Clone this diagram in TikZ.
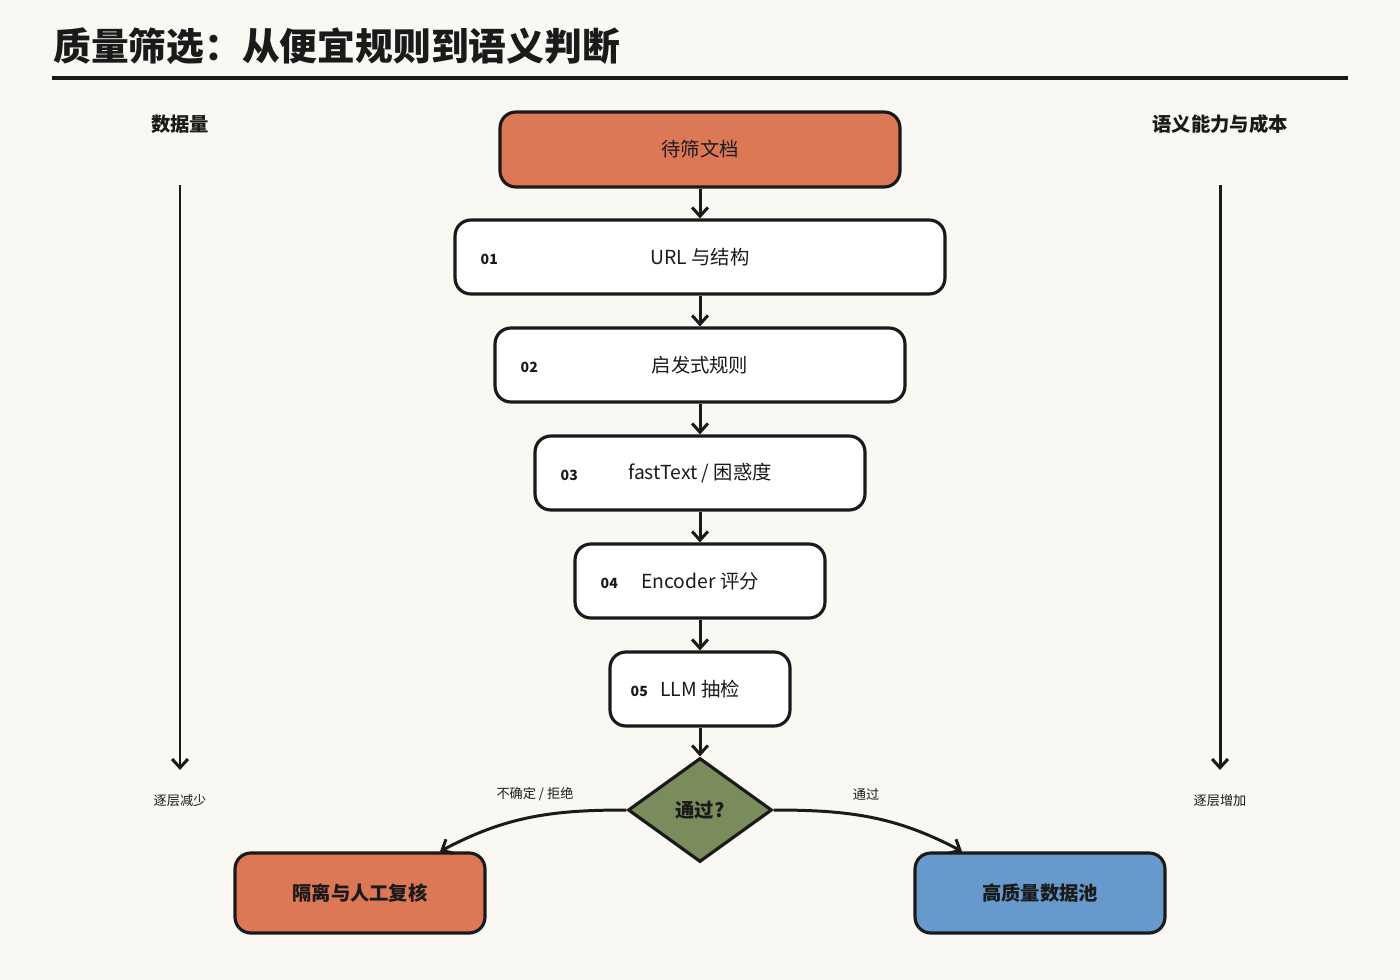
\documentclass[tikz,border=0pt]{standalone}
\usepackage{fontspec}
\setmainfont{Noto Sans CJK SC}
\usetikzlibrary{positioning,shapes.geometric,arrows.meta}
\definecolor{paper}{HTML}{FAF8F3}
\definecolor{rust}{HTML}{DD7856}
\definecolor{sky}{HTML}{6699CC}
\definecolor{moss}{HTML}{7A8C5C}
\definecolor{ink}{HTML}{1A1A1A}
\begin{document}
\begin{tikzpicture}[x=0.02cm,y=-0.02cm,
                line width=1.6pt, draw=ink,
                box/.style={draw=ink, rounded corners=9pt, line width=1.8pt, fill=white,
                  minimum height=1.48cm, font=\fontsize{11}{13}\selectfont, text=ink},
                num/.style={font=\fontsize{8}{10}\selectfont\bfseries, text=ink, anchor=west},
                side/.style={font=\fontsize{11}{13}\selectfont\bfseries, text=ink},
                note/.style={font=\fontsize{7.5}{9}\selectfont, text=ink},
                flow/.style={-{Straight Barb[length=5pt,width=9pt]}, line width=1.7pt, draw=ink}
              ]
              \fill[paper] (0,0) rectangle (1400,980);
              % title
              \node[anchor=west, font=\fontsize{21.5}{26}\selectfont\bfseries, text=ink] (title) at (46,46) {质量筛选：从便宜规则到语义判断};
              \draw[line width=1.8pt] (52,78) -- (1348,78);
              % side scales
              \node[side] (vol) at (180,124) {数据量};
              \node[side] (cost) at (1220,124) {语义能力与成本};
              \coordinate (vt) at (180,185);
              \coordinate (vb) at (180,770);
              \coordinate (ct) at (1220,185);
              \coordinate (cb) at (1220,770);
              \draw[flow] (vt) -- (vb);
              \draw[flow] (ct) -- (cb);
              \node[note] (volnote) at (180,801) {逐层减少};
              \node[note] (costnote) at (1220,801) {逐层增加};
              % stages
              \node[box, fill=rust, minimum width=8cm, minimum height=1.5cm] (s0) at (700,149.5) {待筛文档};
              \node[box, minimum width=9.8cm] (s1) at (700,257) {URL 与结构};
              \node[box, minimum width=8.2cm] (s2) at (700,365) {启发式规则};
              \node[box, minimum width=6.6cm] (s3) at (700,473) {fastText / 困惑度};
              \node[box, minimum width=5cm] (s4) at (700,581) {Encoder 评分};
              \node[box, minimum width=3.6cm] (s5) at (700,689) {LLM 抽检};
              \node[num] at ([xshift=0.4cm,yshift=-0.05cm]s1.west) {01};
              \node[num] at ([xshift=0.4cm,yshift=-0.05cm]s2.west) {02};
              \node[num] at ([xshift=0.4cm,yshift=-0.05cm]s3.west) {03};
              \node[num] at ([xshift=0.4cm,yshift=-0.05cm]s4.west) {04};
              \node[num] at ([xshift=0.3cm,yshift=-0.05cm]s5.west) {05};
              \node[diamond, draw=ink, line width=1.8pt, fill=moss, minimum width=2.88cm, minimum height=2.08cm,
                    inner sep=0pt, font=\fontsize{11}{13}\selectfont\bfseries, text=ink] (ok) at (700,810) {通过?};
              \node[box, fill=rust, minimum width=5cm, minimum height=1.6cm, font=\fontsize{11}{13}\selectfont\bfseries] (hold) at (360,893) {隔离与人工复核};
              \node[box, fill=sky, minimum width=5cm, minimum height=1.6cm, font=\fontsize{11}{13}\selectfont\bfseries] (pool) at (1040,893) {高质量数据池};
              \foreach \a/\b in {s0/s1, s1/s2, s2/s3, s3/s4, s4/s5, s5/ok}
                \draw[flow] (\a.south) -- (\b.north);
              \draw[flow] (ok.west) to[out=180, in=28] ([xshift=1.6cm]hold.north);
              \draw[flow] (ok.east) to[out=0, in=152] ([xshift=-1.56cm]pool.north);
              \node[note] (no) at (535,794) {不确定 / 拒绝};
              \node[note] (yes) at (866,794) {通过};
\end{tikzpicture}
\end{document}
